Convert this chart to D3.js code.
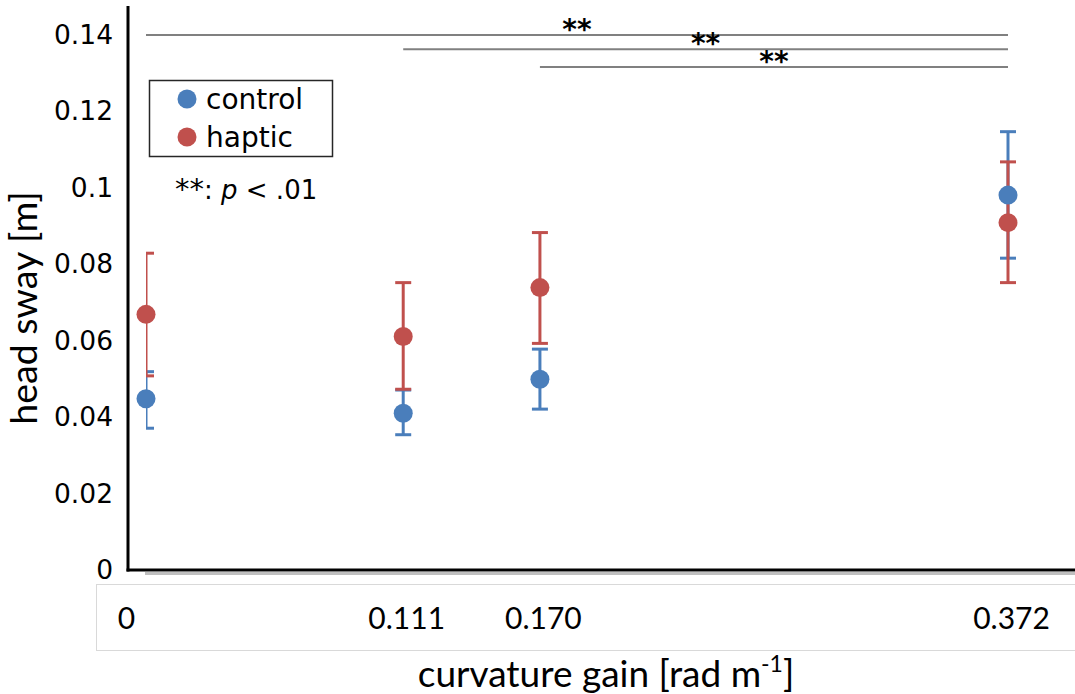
<!DOCTYPE html>
<html>
<head>
<meta charset="utf-8">
<script src="https://cdn.jsdelivr.net/npm/d3@7/dist/d3.min.js"></script>
<style>
  html, body { margin: 0; padding: 0; background: #fff; }
  svg { display: block; }
</style>
</head>
<body>
<svg id="chart" width="1075" height="694"></svg>
<script>
// ---- data ----
const gains = [0, 0.111, 0.170, 0.372];
const gainLabels = ["0", "0.111", "0.170", "0.372"];
const yTicks = [0, 0.02, 0.04, 0.06, 0.08, 0.1, 0.12, 0.14];
const yTickLabels = ["0", "0.02", "0.04", "0.06", "0.08", "0.1", "0.12", "0.14"];

const controlMean  = [0.0448, 0.0410, 0.0499, 0.0981];
const controlUpper = [0.0519, 0.0471, 0.0578, 0.1147];
const controlLower = [0.0371, 0.0354, 0.0421, 0.0816];

const hapticMean  = [0.0669, 0.0611, 0.0739, 0.0909];
const hapticUpper = [0.0829, 0.0752, 0.0883, 0.1068];
const hapticLower = [0.0508, 0.0473, 0.0593, 0.0752];

const sigFrom   = [0, 0.111, 0.170];
const sigTo     = [0.372, 0.372, 0.372];
const sigHeight = [0.140, 0.1363, 0.1316];
const sigLabel  = ["**", "**", "**"];

const seriesNames = ["control", "haptic"];

// ---- layout ----
const svg = d3.select("#chart");
const W = 1075, H = 694;
const colors = { control: "#4a7ebb", haptic: "#c0504d" };
const calib = "Lato, 'Open Sans', sans-serif";
const lucida = "'DejaVu Sans', sans-serif";

const x = d3.scaleLinear().domain([0, 0.372]).range([146, 1008]);
const y = d3.scaleLinear().domain([0, 0.14]).range([570, 35]);
const axisX = 128;
const yAxisTopValue = 0.1476;

// lower label box
svg.append("rect")
  .attr("x", 96.5).attr("y", 584.5)
  .attr("width", W).attr("height", 66)
  .attr("fill", "none").attr("stroke", "#d9d9d9").attr("stroke-width", 1);

// x axis shadow
svg.append("line")
  .attr("x1", x(0) - 1).attr("x2", W)
  .attr("y1", y(0) + 3.5).attr("y2", y(0) + 3.5)
  .attr("stroke", "#bfbfbf").attr("stroke-width", 3);

// y axis
const yAxis = d3.axisLeft(y)
  .tickValues(yTicks)
  .tickFormat((d, i) => yTickLabels[i])
  .tickSize(0)
  .tickPadding(15);
const gy = svg.append("g").attr("transform", `translate(${axisX},0)`).call(yAxis);
gy.select(".domain").remove();
gy.selectAll("text")
  .attr("font-family", lucida)
  .attr("font-size", 26.5)
  .attr("fill", "#000");

svg.append("line")
  .attr("x1", axisX).attr("x2", axisX)
  .attr("y1", y(yAxisTopValue)).attr("y2", y(0) + 1.5)
  .attr("stroke", "#000").attr("stroke-width", 3);

// x axis line
svg.append("line")
  .attr("x1", axisX - 1.5).attr("x2", W)
  .attr("y1", y(0)).attr("y2", y(0))
  .attr("stroke", "#000").attr("stroke-width", 3);

// x tick labels (in the lower box)
const xAxis = d3.axisBottom(x)
  .tickValues(gains)
  .tickFormat((d, i) => gainLabels[i])
  .tickSize(0)
  .tickPadding(0);
const gx = svg.append("g").attr("transform", `translate(0,608)`).call(xAxis);
gx.select(".domain").remove();
gx.selectAll("text")
  .attr("font-family", calib)
  .attr("font-size", 30)
  .attr("fill", "#000")
  .attr("dy", "0.71em")
  .attr("dx", (d, i) => i === 0 ? -20 : 3);

// axis titles
svg.append("text")
  .attr("x", 606).attr("y", 687)
  .attr("text-anchor", "middle")
  .attr("font-family", calib).attr("font-size", 37).attr("fill", "#000")
  .text("curvature gain [rad m")
  .append("tspan").attr("font-size", 23).attr("dy", -15).text("-1")
  .select(function() { return this.parentNode; })
  .append("tspan").attr("dy", 15).text("]");

svg.append("text")
  .attr("transform", "translate(37,308) rotate(-90)")
  .attr("text-anchor", "middle")
  .attr("font-family", calib).attr("font-size", 37.5).attr("fill", "#000")
  .text("head sway [m]");

// significance brackets
const sig = svg.append("g");
sigFrom.forEach((f, i) => {
  sig.append("line")
    .attr("x1", x(f)).attr("x2", x(sigTo[i]))
    .attr("y1", y(sigHeight[i])).attr("y2", y(sigHeight[i]))
    .attr("stroke", "#808080").attr("stroke-width", 2);
  sig.append("text")
    .attr("x", (x(f) + x(sigTo[i])) / 2)
    .attr("y", y(sigHeight[i]) + 4)
    .attr("text-anchor", "middle")
    .attr("font-family", lucida).attr("font-size", 28).attr("font-weight", 700)
    .attr("fill", "#000")
    .text(sigLabel[i]);
});

// clip for error bars (clipped at x = 0)
svg.append("clipPath").attr("id", "plotclip")
  .append("rect").attr("x", x(0)).attr("y", 0).attr("width", W).attr("height", H);

const series = [
  { name: "control", mean: controlMean, up: controlUpper, lo: controlLower },
  { name: "haptic",  mean: hapticMean,  up: hapticUpper,  lo: hapticLower }
];

const capHalf = 8;
const eb = svg.append("g").attr("clip-path", "url(#plotclip)");
series.forEach(s => {
  const g = eb.append("g").attr("stroke", colors[s.name]).attr("stroke-width", 3);
  gains.forEach((gv, i) => {
    g.append("line").attr("x1", x(gv)).attr("x2", x(gv))
      .attr("y1", y(s.up[i])).attr("y2", y(s.lo[i]));
    g.append("line").attr("x1", x(gv) - capHalf).attr("x2", x(gv) + capHalf)
      .attr("y1", y(s.up[i])).attr("y2", y(s.up[i]));
    g.append("line").attr("x1", x(gv) - capHalf).attr("x2", x(gv) + capHalf)
      .attr("y1", y(s.lo[i])).attr("y2", y(s.lo[i]));
  });
});

series.forEach(s => {
  svg.append("g").selectAll("circle")
    .data(gains)
    .join("circle")
    .attr("cx", d => x(d))
    .attr("cy", (d, i) => y(s.mean[i]))
    .attr("r", 9.5)
    .attr("fill", colors[s.name]);
});

// legend
const lg = svg.append("g");
lg.append("rect")
  .attr("x", 149.5).attr("y", 80.5).attr("width", 183).attr("height", 76)
  .attr("fill", "#fff").attr("stroke", "#262626").attr("stroke-width", 1.5);
seriesNames.forEach((n, i) => {
  const cy = 99 + i * 38;
  lg.append("circle").attr("cx", 187).attr("cy", cy).attr("r", 9.5).attr("fill", colors[n]);
  lg.append("text").attr("x", 206).attr("y", cy + 9.5)
    .attr("font-family", lucida).attr("font-size", 28).attr("fill", "#000")
    .text(n);
});

// p-value note
const note = svg.append("text").attr("x", 175).attr("y", 199)
  .attr("font-family", lucida).attr("font-size", 26).attr("fill", "#000");
note.append("tspan").attr("font-size", 29).text("**");
note.append("tspan").text(": ");
note.append("tspan").attr("font-style", "italic").text("p");
note.append("tspan").text(" < .01");
</script>
</body>
</html>
